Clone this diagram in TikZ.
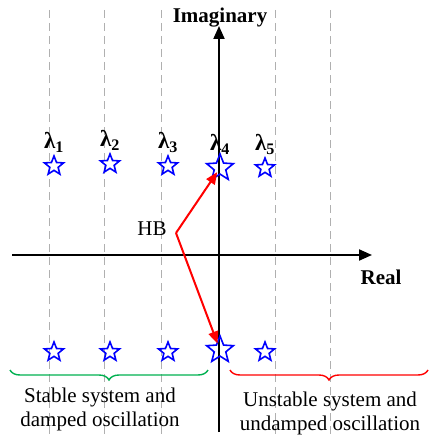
\documentclass[tikz,border=0pt]{standalone}
\usepackage{fontspec}
\setmainfont{Liberation Serif}
\usetikzlibrary{arrows.meta,positioning,shapes.geometric,decorations.pathreplacing}
\definecolor{stab}{HTML}{00B050}
\definecolor{unstab}{HTML}{FF0000}
\definecolor{grid}{HTML}{B0B0B0}

\begin{document}
\begin{tikzpicture}[x=1pt, y=-1pt,
  every node/.style={font=\fontsize{21}{24}\selectfont},
  pole/.style={star, star points=5, star point ratio=2.3, draw=blue, line width=1.6pt,
    minimum size=20pt, inner sep=0pt},
  bigpole/.style={pole, minimum size=28pt},
  lab/.style={font=\fontsize{23}{25}\selectfont\bfseries, inner sep=1pt},
  guide/.style={grid, line width=1pt, dash pattern=on 8pt off 5pt},
  axis/.style={line width=2pt, -{Triangle[length=13pt,width=11pt]}},
  move/.style={red, line width=2pt, -{Triangle[length=12pt,width=10pt]}}]
  \useasboundingbox (0,0) rectangle (436,436);

  % dashed guides
  \foreach \x in {49,104,161,275,330}
    \draw[guide] (\x,10) -- (\x,434);

  % axes
  \coordinate (xl) at (12,255);
  \coordinate (xr) at (372,255);
  \coordinate (yb) at (219,432);
  \coordinate (yt) at (219,26);
  \draw[axis] (xl) -- (xr);
  \draw[axis] (yb) -- (yt);
  \node[font=\fontsize{21}{25}\selectfont\bfseries] (im) at (220,18) {Imaginary};
  \node[font=\fontsize{21}{25}\selectfont\bfseries] (re) at (381,277) {Real};

  % eigenvalues
  \node[pole] (s1) at (54,166) {};
  \node[pole] (s2) at (110,164) {};
  \node[pole] (s3) at (168,166) {};
  \node[bigpole] (s4) at (220,168) {};
  \node[pole] (s5) at (265,168) {};
  \node[pole] (b1) at (54,352) {};
  \node[pole] (b2) at (110,352) {};
  \node[pole] (b3) at (168,352) {};
  \node[bigpole] (b4) at (220,350) {};
  \node[pole] (b5) at (265,352) {};

  \node[lab, above=0pt of s1] (l1) {λ\textsubscript{1}};
  \node[lab, above=0pt of s2] (l2) {λ\textsubscript{2}};
  \node[lab, above=0pt of s3] (l3) {λ\textsubscript{3}};
  \node[lab, above=-4pt of s4] (l4) {λ\textsubscript{4}};
  \node[lab, above=0pt of s5] (l5) {λ\textsubscript{5}};

  % Hopf bifurcation
  \node (hb) at (152,229) {HB};
  \coordinate (hbpt) at (176,233);
  \draw[move, shorten >=5pt] (hbpt) -- (s4.center);
  \draw[move, shorten >=7pt] (hbpt) -- (b4.center);

  % regions
  \draw[stab, line width=1.4pt, decorate, decoration={brace, amplitude=10pt, mirror}]
    (10,370) -- (208,370);
  \draw[unstab, line width=1.4pt, decorate, decoration={brace, amplitude=10pt, mirror}]
    (230,370) -- (428,370);
  \node[align=center] (st) at (100,409) {Stable system and\\damped oscillation};
  \node[align=center] (un) at (330,413) {Unstable system and\\undamped oscillation};
\end{tikzpicture}
\end{document}
